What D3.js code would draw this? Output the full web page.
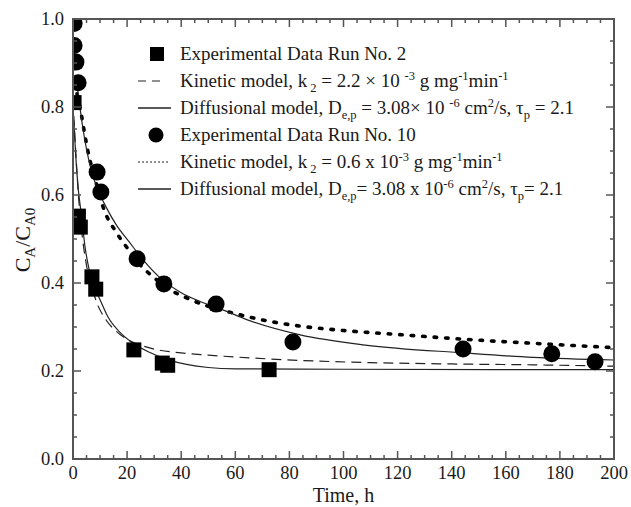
<!DOCTYPE html>
<html>
<head>
<meta charset="utf-8">
<script src="https://cdn.jsdelivr.net/npm/d3@7"></script>
<style>
  body { margin: 0; background: #fff; }
  svg { display: block; font-family: "Liberation Serif", "Times New Roman", serif; }
</style>
</head>
<body>
<div id="chart"></div>
<script>
// values: [time h, CA/CA0]
const run2Points = [[0.4,0.81],[2,0.552],[2.7,0.527],[7,0.414],[8.4,0.386],[22.5,0.248],[33,0.218],[35,0.213],[72.5,0.203]];
const run10Points = [[0.4,0.99],[0.4,0.94],[1.1,0.902],[1.9,0.855],[8.9,0.652],[10.3,0.607],[23.7,0.455],[33.6,0.398],[52.9,0.352],[81.3,0.266],[144.2,0.25],[177,0.239],[193,0.221]];

const run2Kinetic = [[0.3,0.78],[1,0.70],[2,0.60],[3,0.53],[5,0.44],[7,0.39],[9,0.352],[12,0.318],[16,0.29],[20,0.272],[28,0.253],[40,0.241],[50,0.236],[65,0.23],[84,0.224],[110,0.219],[140,0.216],[170,0.214],[200,0.211]];
const run2Diffusional = [[0.3,0.77],[1,0.69],[2,0.61],[3,0.56],[4.5,0.48],[6,0.43],[8,0.39],[10,0.362],[13,0.322],[17,0.29],[22,0.264],[28,0.243],[35,0.226],[42,0.215],[50,0.208],[60,0.205],[100,0.204],[200,0.203]];
const run10Kinetic = [[1.5,0.83],[3,0.786],[4,0.75],[5.5,0.70],[8,0.64],[11.5,0.566],[15.9,0.516],[20,0.48],[25,0.44],[29.6,0.414],[35,0.388],[42,0.366],[50,0.347],[59,0.332],[70,0.316],[84,0.302],[100,0.292],[120,0.283],[145,0.272],[170,0.263],[200,0.253]];
const run10Diffusional = [[1.5,0.85],[3.7,0.75],[6.7,0.657],[9,0.615],[12.2,0.573],[16,0.532],[20.7,0.494],[26,0.452],[31.8,0.414],[40,0.378],[47,0.358],[55,0.34],[65,0.315],[84,0.282],[108,0.259],[145,0.241],[170,0.231],[200,0.225]];

const xTicks = [0,20,40,60,80,100,120,140,160,180,200];
const yTicks = [0,0.2,0.4,0.6,0.8,1.0];

// legend rows: pieces of [text, shift] where shift is "sub", "sup" or ""
const legendRows = [
  {mark:"square", parts:[["Experimental Data Run No. 2",""]]},
  {mark:"dash", parts:[["Kinetic model, k",""],[" 2","sub"],[" = 2.2 \u00d7 10 ",""],["-3","sup"],[" g mg",""],["-1","sup"],["min",""],["-1","sup"]]},
  {mark:"solid", parts:[["Diffusional model, D",""],["e,p","sub"],[" = 3.08\u00d7 10 ",""],["-6","sup"],[" cm",""],["2","sup"],["/s,  \u03c4",""],["p","sub"],[" = 2.1",""]]},
  {mark:"circle", parts:[["Experimental Data Run No. 10",""]]},
  {mark:"dot", parts:[["Kinetic model, k",""],[" 2","sub"],[" = 0.6  x 10",""],["-3","sup"],[" g mg",""],["-1","sup"],["min",""],["-1","sup"]]},
  {mark:"solid", parts:[["Diffusional model, D",""],["e,p","sub"],["= 3.08  x 10",""],["-6","sup"],[" cm",""],["2","sup"],["/s,  \u03c4",""],["p","sub"],["= 2.1",""]]}
];

const W = 631, H = 507;
const margin = {top: 19, right: 17, bottom: 48, left: 73};
const w = W - margin.left - margin.right;
const h = H - margin.top - margin.bottom;

const svg = d3.select("#chart").append("svg")
  .attr("width", W).attr("height", H);
const g = svg.append("g").attr("transform", `translate(${margin.left},${margin.top})`);

const x = d3.scaleLinear().domain([0,200]).range([0,w]);
const y = d3.scaleLinear().domain([0,1]).range([h,0]);

const axisColor = "#555";
const textColor = "#1a1a1a";

// clip so markers at the edge sit under the frame
g.append("clipPath").attr("id","clip").append("rect").attr("width", w).attr("height", h);
const plot = g.append("g").attr("clip-path","url(#clip)");

const line = d3.line().x(d => x(d[0])).y(d => y(d[1])).curve(d3.curveMonotoneX);

plot.append("path").datum(run2Kinetic).attr("d", line)
  .attr("fill","none").attr("stroke","#222").attr("stroke-width",1.2).attr("stroke-dasharray","10,6");
plot.append("path").datum(run2Diffusional).attr("d", line)
  .attr("fill","none").attr("stroke","#222").attr("stroke-width",1.2);
plot.append("path").datum(run10Kinetic).attr("d", line)
  .attr("fill","none").attr("stroke","#000").attr("stroke-width",3.6)
  .attr("stroke-linecap","round").attr("stroke-dasharray","2.5,9");
plot.append("path").datum(run10Diffusional).attr("d", line)
  .attr("fill","none").attr("stroke","#222").attr("stroke-width",1.2);

plot.selectAll(".sq").data(run2Points).join("rect")
  .attr("x", d => x(d[0]) - 7.5).attr("y", d => y(d[1]) - 7.5)
  .attr("width",15).attr("height",15).attr("fill","#000");
plot.selectAll(".ci").data(run10Points).join("circle")
  .attr("cx", d => x(d[0])).attr("cy", d => y(d[1])).attr("r",8.5).attr("fill","#000");

// axes: ticks pointing inward on all four sides
const minorX = d3.range(0,201,5), minorY = d3.range(0,1.0001,0.05);
const ax = g.append("g").attr("stroke", axisColor).attr("stroke-width",1.5);
minorX.forEach(v => {
  const len = v % 20 === 0 ? 8 : 4;
  ax.append("line").attr("x1",x(v)).attr("x2",x(v)).attr("y1",h).attr("y2",h-len);
  ax.append("line").attr("x1",x(v)).attr("x2",x(v)).attr("y1",0).attr("y2",len);
});
minorY.forEach(v => {
  const len = Math.abs(v*5 - Math.round(v*5)) < 1e-6 ? 8 : 4;
  ax.append("line").attr("x1",0).attr("x2",len).attr("y1",y(v)).attr("y2",y(v));
  ax.append("line").attr("x1",w).attr("x2",w-len).attr("y1",y(v)).attr("y2",y(v));
});
g.append("rect").attr("width",w).attr("height",h)
  .attr("fill","none").attr("stroke",axisColor).attr("stroke-width",2);

g.selectAll(".xt").data(xTicks).join("text")
  .attr("x", d => x(d)).attr("y", h + 20).attr("text-anchor","middle")
  .attr("font-size",18.5).attr("fill",textColor).text(d => d);
g.selectAll(".yt").data(yTicks).join("text")
  .attr("x", -9).attr("y", d => y(d) + 6).attr("text-anchor","end")
  .attr("font-size",18.5).attr("fill",textColor).text(d => d.toFixed(1));

svg.append("text").attr("x", margin.left + w/2).attr("y", 502)
  .attr("text-anchor","middle").attr("font-size",20).attr("fill",textColor)
  .text("Time, h");

const yl = svg.append("text").attr("transform","translate(30,240) rotate(-90)")
  .attr("text-anchor","middle").attr("font-size",22).attr("fill",textColor);
yl.append("tspan").text("C");
yl.append("tspan").attr("dy",5).attr("font-size",15).text("A");
yl.append("tspan").attr("dy",-5).text("/C");
yl.append("tspan").attr("dy",5).attr("font-size",15).text("A0");

// legend
const leg = svg.append("g");
legendRows.forEach((row, i) => {
  const cy = 54 + i * 27;
  if (row.mark === "square") leg.append("rect").attr("x",150).attr("y",cy-7).attr("width",14).attr("height",14).attr("fill","#000");
  if (row.mark === "circle") leg.append("circle").attr("cx",156).attr("cy",cy).attr("r",7.5).attr("fill","#000");
  if (row.mark === "dash") leg.append("line").attr("x1",138).attr("x2",165).attr("y1",cy).attr("y2",cy)
    .attr("stroke","#222").attr("stroke-width",1.2).attr("stroke-dasharray","8,6");
  if (row.mark === "solid") leg.append("line").attr("x1",138).attr("x2",171).attr("y1",cy).attr("y2",cy)
    .attr("stroke","#222").attr("stroke-width",1.3);
  if (row.mark === "dot") leg.append("line").attr("x1",138).attr("x2",170).attr("y1",cy).attr("y2",cy)
    .attr("stroke","#222").attr("stroke-width",1.2).attr("stroke-dasharray","2,2");
  const t = leg.append("text").attr("x",180).attr("y",cy+6).attr("font-size",19).attr("fill",textColor);
  let shift = 0;
  row.parts.forEach(([s, k]) => {
    const target = k === "sub" ? 5 : k === "sup" ? -7 : 0;
    t.append("tspan").attr("dy", target - shift).attr("font-size", k ? 12.5 : 19).text(s);
    shift = target;
  });
});
</script>
</body>
</html>
